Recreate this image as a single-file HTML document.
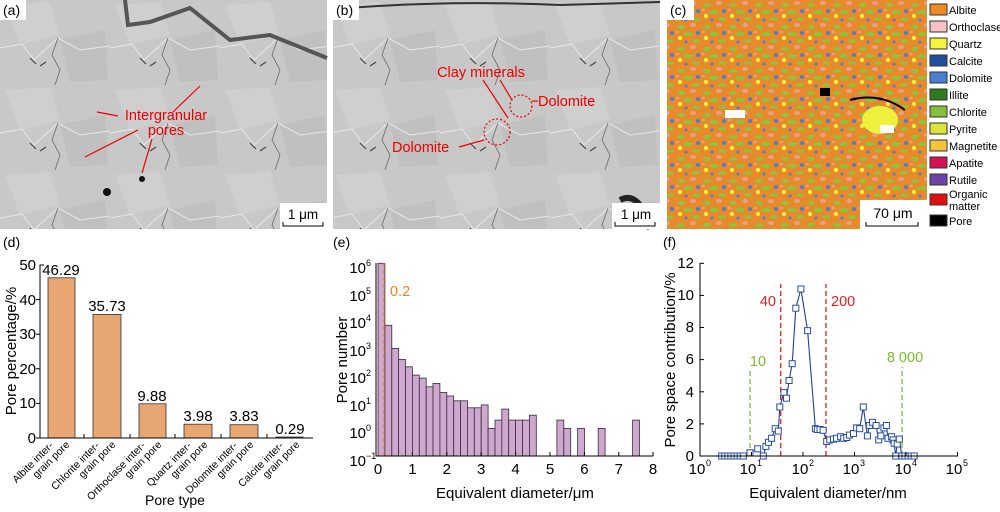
<!DOCTYPE html>
<html><head><meta charset="utf-8"><style>
body{margin:0;background:#fff;}
svg{display:block;font-family:"Liberation Sans",Arial,sans-serif;}
</style></head><body>
<svg width="1000" height="512" viewBox="0 0 1000 512" xmlns="http://www.w3.org/2000/svg">
<defs>
<pattern id="sem" width="110" height="85" patternUnits="userSpaceOnUse">
<rect width="110" height="85" fill="#c8c8c8"/>
<polygon points="5,5 50,2 60,35 20,45" fill="#cfcfcf"/>
<polygon points="60,40 105,30 108,80 70,82" fill="#c0c0c0"/>
<path d="M0 48 L22 44 L34 60 L58 38 L80 50 L110 46" stroke="#e8e8e8" stroke-width="1" fill="none"/>
<path d="M58 38 L52 55 L60 70 L55 85" stroke="#6a6a6a" stroke-width="0.8" fill="none"/>
<path d="M30 58 L36 64 M40 66 L46 62" stroke="#444" stroke-width="1.2"/>
</pattern>
<pattern id="map" width="26" height="22" patternUnits="userSpaceOnUse">
<rect width="26" height="22" fill="#e8892c"/>
<ellipse cx="5" cy="5" rx="4" ry="2" fill="#8cc43c"/>
<ellipse cx="17" cy="3" rx="3" ry="2" fill="#e9a08a"/>
<ellipse cx="12" cy="12" rx="5" ry="2" fill="#8cc43c"/>
<circle cx="22" cy="11" r="2" fill="#4a7fd0"/>
<circle cx="4" cy="16" r="2.2" fill="#eef03c"/>
<ellipse cx="20" cy="19" rx="4" ry="1.8" fill="#8cc43c"/>
<circle cx="10" cy="20" r="1.5" fill="#4a7fd0"/>
<ellipse cx="1" cy="10" rx="2" ry="1.3" fill="#e9a08a"/>
</pattern>
<rect id="m" x="-3" y="-3" width="6" height="6" fill="#fff" stroke="#2a4fa0" stroke-width="1"/>
</defs>

<!-- Panel a -->
<rect x="0" y="0" width="327" height="229" fill="url(#sem)"/>
<path d="M125 0 L128 25 L150 22 L190 8 L230 40 L270 35 L327 58" stroke="#555" stroke-width="4" fill="none"/>
<circle cx="142" cy="179" r="3" fill="#111"/><circle cx="107" cy="192" r="4" fill="#111"/>
<rect x="0" y="0" width="26" height="20" fill="#fff"/>
<text x="3" y="15" font-size="14">(a)</text>
<g stroke="#e00" stroke-width="1.2" fill="none">
<line x1="118" y1="116" x2="97" y2="112"/><line x1="200" y1="86" x2="173" y2="112"/>
<line x1="138" y1="130" x2="85" y2="157"/><line x1="152" y1="139" x2="142" y2="173"/></g>
<text x="166" y="120" font-size="14.5" fill="#e00" text-anchor="middle">Intergranular</text>
<text x="166" y="135" font-size="14.5" fill="#e00" text-anchor="middle">pores</text>
<rect x="280" y="203" width="47" height="26" fill="#fff"/>
<text x="303" y="219" font-size="13.5" text-anchor="middle">1 μm</text>
<path d="M283 222 V226 H323 V222" stroke="#000" fill="none"/>

<!-- Panel b -->
<rect x="333" y="0" width="327" height="229" fill="url(#sem)"/>
<path d="M350 8 Q450 0 560 5 L660 2" stroke="#333" stroke-width="2" fill="none"/>
<path d="M620 200 Q640 190 650 229" stroke="#222" stroke-width="6" fill="none"/>
<rect x="333" y="0" width="26" height="20" fill="#fff"/>
<text x="336" y="15" font-size="14">(b)</text>
<g stroke="#e00" stroke-width="1.2" fill="none">
<circle cx="497" cy="132" r="13" stroke-dasharray="2,2"/><circle cx="521" cy="106" r="11" stroke-dasharray="2,2"/>
<line x1="483" y1="80" x2="508" y2="118"/><line x1="500" y1="80" x2="512" y2="100"/>
<line x1="532" y1="101" x2="538" y2="101"/><line x1="459" y1="147" x2="484" y2="140"/></g>
<text x="481" y="77" font-size="14.5" fill="#e00" text-anchor="middle">Clay minerals</text>
<text x="538" y="106" font-size="14.5" fill="#e00">Dolomite</text>
<text x="392" y="152" font-size="14.5" fill="#e00">Dolomite</text>
<rect x="612" y="203" width="48" height="26" fill="#fff"/>
<text x="636" y="219" font-size="13.5" text-anchor="middle">1 μm</text>
<path d="M615 222 V226 H655 V222" stroke="#000" fill="none"/>

<!-- Panel c -->
<rect x="667" y="0" width="260" height="229" fill="url(#map)"/>
<ellipse cx="880" cy="120" rx="18" ry="14" fill="#eef03c"/>
<rect x="725" y="110" width="20" height="8" fill="#fff"/><rect x="880" y="125" width="14" height="8" fill="#fff"/>
<rect x="820" y="88" width="10" height="8" fill="#000"/>
<path d="M850 100 Q880 92 905 110" stroke="#000" stroke-width="2" fill="none"/>
<rect x="667" y="0" width="27" height="20" fill="#fff"/>
<text x="670" y="15" font-size="14">(c)</text>
<rect x="860" y="200" width="67" height="29" fill="#fff"/>
<text x="893" y="218" font-size="14" text-anchor="middle">70 μm</text>
<path d="M866 222 V226 H918 V222" stroke="#000" fill="none"/>
<g font-size="11" stroke-width="1">
<rect x="930" y="4" width="17" height="11" fill="#ee8a24" stroke="#333"/><text x="949" y="14">Albite</text>
<rect x="930" y="21" width="17" height="11" fill="#f6c0c4" stroke="#333"/><text x="949" y="31">Orthoclase</text>
<rect x="930" y="38" width="17" height="11" fill="#f4f43a" stroke="#333"/><text x="949" y="48">Quartz</text>
<rect x="930" y="55" width="17" height="11" fill="#1f4f9e" stroke="#333"/><text x="949" y="65">Calcite</text>
<rect x="930" y="72" width="17" height="11" fill="#4a7fd0" stroke="#333"/><text x="949" y="82">Dolomite</text>
<rect x="930" y="89" width="17" height="11" fill="#2e7a1e" stroke="#333"/><text x="949" y="99">Illite</text>
<rect x="930" y="106" width="17" height="11" fill="#84c03a" stroke="#333"/><text x="949" y="116">Chlorite</text>
<rect x="930" y="123" width="17" height="11" fill="#dce43a" stroke="#333"/><text x="949" y="133">Pyrite</text>
<rect x="930" y="140" width="17" height="11" fill="#f6c43a" stroke="#333"/><text x="949" y="150">Magnetite</text>
<rect x="930" y="157" width="17" height="11" fill="#d6115a" stroke="#333"/><text x="949" y="167">Apatite</text>
<rect x="930" y="174" width="17" height="11" fill="#6a44a8" stroke="#333"/><text x="949" y="184">Rutile</text>
<rect x="930" y="194" width="17" height="11" fill="#e01010" stroke="#333"/><text x="949" y="198">Organic</text><text x="949" y="210">matter</text>
<rect x="930" y="215" width="17" height="11" fill="#000" stroke="#333"/><text x="949" y="225">Pore</text>
</g>

<!-- Chart d -->
<text x="3" y="247" font-size="14">(d)</text>
<g font-size="15">
<g fill="#e8a673" stroke="#333" stroke-width="0.8">
<rect x="48" y="277.8" width="27" height="160.2"/><rect x="93" y="314.4" width="28" height="123.6"/>
<rect x="139" y="403.8" width="27" height="34.2"/><rect x="184" y="424.2" width="28" height="13.8"/>
<rect x="230" y="424.7" width="28" height="13.3"/><rect x="276" y="437" width="27" height="1"/></g>
<path d="M44 265 H40 V438 H313" stroke="#000" fill="none"/>
<g stroke="#000"><line x1="36" y1="299.6" x2="40" y2="299.6"/><line x1="36" y1="334.2" x2="40" y2="334.2"/><line x1="36" y1="368.8" x2="40" y2="368.8"/><line x1="36" y1="403.4" x2="40" y2="403.4"/><line x1="36" y1="438" x2="40" y2="438"/>
<line x1="84" y1="438" x2="84" y2="434"/><line x1="130" y1="438" x2="130" y2="434"/><line x1="175" y1="438" x2="175" y2="434"/><line x1="221" y1="438" x2="221" y2="434"/><line x1="267" y1="438" x2="267" y2="434"/></g>
<g text-anchor="end"><text x="36" y="270">50</text><text x="36" y="305">40</text><text x="36" y="339">30</text><text x="36" y="374">20</text><text x="36" y="408">10</text><text x="36" y="443">0</text></g>
<g text-anchor="middle"><text x="61" y="275">46.29</text><text x="107" y="311">35.73</text><text x="152" y="401">9.88</text><text x="198" y="421">3.98</text><text x="244" y="421">3.83</text><text x="290" y="434">0.29</text></g>
<text transform="translate(16,351) rotate(-90)" text-anchor="middle">Pore percentage/%</text>
<text x="175" y="505" text-anchor="middle" font-size="14">Pore type</text>
</g>
<g font-size="10.5" text-anchor="end">
<g transform="translate(54,446) rotate(-45)"><text>Albite inter-</text><text x="12" y="11">grain pore</text></g>
<g transform="translate(100,446) rotate(-45)"><text>Chlorite inter-</text><text x="12" y="11">grain pore</text></g>
<g transform="translate(146,446) rotate(-45)"><text>Orthoclase inter-</text><text x="12" y="11">grain pore</text></g>
<g transform="translate(192,446) rotate(-45)"><text>Quartz inter-</text><text x="12" y="11">grain pore</text></g>
<g transform="translate(238,446) rotate(-45)"><text>Dolomite inter-</text><text x="12" y="11">grain pore</text></g>
<g transform="translate(284,446) rotate(-45)"><text>Calcite inter-</text><text x="12" y="11">grain pore</text></g>
</g>

<!-- Chart e -->
<text x="333" y="247" font-size="14">(e)</text>
<g fill="#cfa8cf" stroke="#3a2a3a" stroke-width="0.8">
<rect x="378" y="263.3" width="6.9" height="192.7"/>
<rect x="384.9" y="325.3" width="6.9" height="130.7"/>
<rect x="391.8" y="348.4" width="6.9" height="107.6"/>
<rect x="398.6" y="359.4" width="6.9" height="96.6"/>
<rect x="405.5" y="366.8" width="6.9" height="89.2"/>
<rect x="412.4" y="375.1" width="6.9" height="80.9"/>
<rect x="419.3" y="378.1" width="6.9" height="77.9"/>
<rect x="426.2" y="386.8" width="6.9" height="69.2"/>
<rect x="433" y="383.4" width="6.9" height="72.6"/>
<rect x="439.9" y="392.5" width="6.9" height="63.5"/>
<rect x="446.8" y="396" width="6.9" height="60"/>
<rect x="453.7" y="400.8" width="6.9" height="55.2"/>
<rect x="460.6" y="400.8" width="6.9" height="55.2"/>
<rect x="467.4" y="407.8" width="6.9" height="48.2"/>
<rect x="474.3" y="407.8" width="6.9" height="48.2"/>
<rect x="481.2" y="404.9" width="6.9" height="51.1"/>
<rect x="488.1" y="428.4" width="6.9" height="27.6"/>
<rect x="495" y="420.1" width="6.9" height="35.9"/>
<rect x="501.8" y="409.1" width="6.9" height="46.9"/>
<rect x="508.7" y="420.1" width="6.9" height="35.9"/>
<rect x="515.6" y="420.1" width="6.9" height="35.9"/>
<rect x="522.5" y="420.1" width="6.9" height="35.9"/>
<rect x="529.4" y="415.2" width="6.9" height="40.8"/>
<rect x="556.9" y="420.1" width="6.9" height="35.9"/>
<rect x="563.8" y="428.4" width="6.9" height="27.6"/>
<rect x="577.6" y="428.4" width="6.9" height="27.6"/>
<rect x="598.2" y="428.4" width="6.9" height="27.6"/>
<rect x="632.6" y="420.1" width="6.9" height="35.9"/>
</g>
<line x1="384" y1="263" x2="384" y2="456" stroke="#f08020" stroke-width="1.3" stroke-dasharray="4,3"/>
<text x="390" y="296" font-size="14.5" fill="#f08020">0.2</text>
<path d="M376 263 V456 H653" stroke="#000" fill="none"/>
<g stroke="#000"><line x1="412.4" y1="456" x2="412.4" y2="452"/><line x1="446.8" y1="456" x2="446.8" y2="452"/><line x1="481.2" y1="456" x2="481.2" y2="452"/><line x1="515.6" y1="456" x2="515.6" y2="452"/><line x1="550" y1="456" x2="550" y2="452"/><line x1="584.4" y1="456" x2="584.4" y2="452"/><line x1="618.8" y1="456" x2="618.8" y2="452"/><line x1="653" y1="456" x2="653" y2="452"/></g>
<g font-size="15" text-anchor="middle"><text x="378" y="474">0</text><text x="412.4" y="474">1</text><text x="446.8" y="474">2</text><text x="481.2" y="474">3</text><text x="515.6" y="474">4</text><text x="550" y="474">5</text><text x="584.4" y="474">6</text><text x="618.8" y="474">7</text><text x="653" y="474">8</text>
<text x="515" y="498">Equivalent diameter/μm</text>
<text transform="translate(347,360) rotate(-90)">Pore number</text></g>
<g font-size="15" text-anchor="end">
<text x="366" y="273">10</text><text x="366" y="301">10</text><text x="366" y="328">10</text><text x="366" y="356">10</text><text x="366" y="383">10</text><text x="366" y="411">10</text><text x="366" y="438">10</text><text x="366" y="466">10</text></g>
<g font-size="9"><text x="366" y="266">6</text><text x="366" y="294">5</text><text x="366" y="321">4</text><text x="366" y="349">3</text><text x="366" y="376">2</text><text x="366" y="404">1</text><text x="366" y="431">0</text><text x="366" y="459">−1</text></g>

<!-- Chart f -->
<text x="663" y="247" font-size="14">(f)</text>
<g stroke-width="1.3" stroke-dasharray="5,3" fill="none">
<line x1="750" y1="456" x2="750" y2="368" stroke="#7cba2c"/>
<line x1="902" y1="456" x2="902" y2="367" stroke="#7cba2c"/>
<line x1="780.7" y1="456" x2="780.7" y2="284" stroke="#e02020"/>
<line x1="826" y1="456" x2="826" y2="284" stroke="#e02020"/></g>
<g font-size="14.5"><text x="758" y="366" fill="#7cba2c" text-anchor="middle">10</text>
<text x="905" y="362" fill="#7cba2c" text-anchor="middle">8 000</text>
<text x="776" y="306" fill="#e02020" text-anchor="end">40</text>
<text x="831" y="306" fill="#e02020">200</text></g>
<polyline fill="none" stroke="#1f3f9a" stroke-width="1.1" points="721.6,456 724.7,456 727.8,456 730.9,456 734,456 737.1,456 740.2,456 743.3,456 750,452.8 757.7,448.8 763.3,456 765.9,446.4 768.5,442.3 771.6,438.3 775.2,428.7 778.3,431.1 779.8,407 783.9,392.6 786.5,398.2 789.1,380.5 792.2,363.7 795.8,308.2 800.9,289 807.6,330.7 815.4,428.7 817.4,429.5 820,429.5 823.1,430.3 826.7,441.5 829.8,439.9 833.4,439.1 836.5,438.3 840.6,436.7 843.7,438.3 846.8,437.5 849.4,435.1 853.5,433.5 856.6,427.9 859.7,428.7 863.3,407 867.4,435.9 869.4,425.5 872.5,422.3 876.1,425.5 878.7,439.9 880.8,435.9 883.9,427.9 886.4,425.5 888,438.3 891.6,436.7 893.1,439.9 894.2,443.2 895.7,456 897.2,444 899.3,439.1 901.9,456 905,456 908.1,456 911.2,456 914.2,456"/>
<g>
<use href="#m" x="721.6" y="456"/><use href="#m" x="724.7" y="456"/><use href="#m" x="727.8" y="456"/><use href="#m" x="730.9" y="456"/><use href="#m" x="734" y="456"/><use href="#m" x="737.1" y="456"/><use href="#m" x="740.2" y="456"/><use href="#m" x="743.3" y="456"/>
<use href="#m" x="750" y="452.8"/><use href="#m" x="757.7" y="448.8"/><use href="#m" x="763.3" y="456"/><use href="#m" x="765.9" y="446.4"/><use href="#m" x="768.5" y="442.3"/><use href="#m" x="771.6" y="438.3"/><use href="#m" x="775.2" y="428.7"/><use href="#m" x="778.3" y="431.1"/><use href="#m" x="779.8" y="407"/><use href="#m" x="783.9" y="392.6"/><use href="#m" x="786.5" y="398.2"/><use href="#m" x="789.1" y="380.5"/><use href="#m" x="792.2" y="363.7"/><use href="#m" x="795.8" y="308.2"/><use href="#m" x="800.9" y="289"/><use href="#m" x="807.6" y="330.7"/><use href="#m" x="815.4" y="428.7"/><use href="#m" x="817.4" y="429.5"/><use href="#m" x="820" y="429.5"/><use href="#m" x="823.1" y="430.3"/><use href="#m" x="826.7" y="441.5"/><use href="#m" x="829.8" y="439.9"/><use href="#m" x="833.4" y="439.1"/><use href="#m" x="836.5" y="438.3"/><use href="#m" x="840.6" y="436.7"/><use href="#m" x="843.7" y="438.3"/><use href="#m" x="846.8" y="437.5"/><use href="#m" x="849.4" y="435.1"/><use href="#m" x="853.5" y="433.5"/><use href="#m" x="856.6" y="427.9"/><use href="#m" x="859.7" y="428.7"/><use href="#m" x="863.3" y="407"/><use href="#m" x="867.4" y="435.9"/><use href="#m" x="869.4" y="425.5"/><use href="#m" x="872.5" y="422.3"/><use href="#m" x="876.1" y="425.5"/><use href="#m" x="878.7" y="439.9"/><use href="#m" x="880.8" y="435.9"/><use href="#m" x="883.9" y="427.9"/><use href="#m" x="886.4" y="425.5"/><use href="#m" x="888" y="438.3"/><use href="#m" x="891.6" y="436.7"/><use href="#m" x="893.1" y="439.9"/><use href="#m" x="894.2" y="443.2"/><use href="#m" x="895.7" y="456"/><use href="#m" x="897.2" y="444"/><use href="#m" x="899.3" y="439.1"/><use href="#m" x="901.9" y="456"/><use href="#m" x="905" y="456"/><use href="#m" x="908.1" y="456"/><use href="#m" x="911.2" y="456"/><use href="#m" x="914.2" y="456"/>
</g>
<path d="M700 263 V456 H958" stroke="#000" fill="none"/>
<g stroke="#000"><line x1="700" y1="263.3" x2="704" y2="263.3"/><line x1="700" y1="295.4" x2="704" y2="295.4"/><line x1="700" y1="327.5" x2="704" y2="327.5"/><line x1="700" y1="359.6" x2="704" y2="359.6"/><line x1="700" y1="391.8" x2="704" y2="391.8"/><line x1="700" y1="423.9" x2="704" y2="423.9"/>
<line x1="751.5" y1="456" x2="751.5" y2="452"/><line x1="803" y1="456" x2="803" y2="452"/><line x1="854.5" y1="456" x2="854.5" y2="452"/><line x1="906" y1="456" x2="906" y2="452"/><line x1="957.5" y1="456" x2="957.5" y2="452"/></g>
<g font-size="15" text-anchor="end"><text x="694" y="268">12</text><text x="694" y="300">10</text><text x="694" y="332">8</text><text x="694" y="364">6</text><text x="694" y="397">4</text><text x="694" y="429">2</text><text x="694" y="461">0</text></g>
<g font-size="15" text-anchor="middle"><text x="697" y="474">10</text><text x="748" y="474">10</text><text x="800" y="474">10</text><text x="851" y="474">10</text><text x="903" y="474">10</text><text x="954" y="474">10</text>
<text x="828" y="498">Equivalent diameter/nm</text>
<text transform="translate(675,360) rotate(-90)">Pore space contribution/%</text></g>
<g font-size="9"><text x="706" y="466">0</text><text x="757" y="466">1</text><text x="809" y="466">2</text><text x="860" y="466">3</text><text x="912" y="466">4</text><text x="963" y="466">5</text></g>
</svg>
</body></html>
